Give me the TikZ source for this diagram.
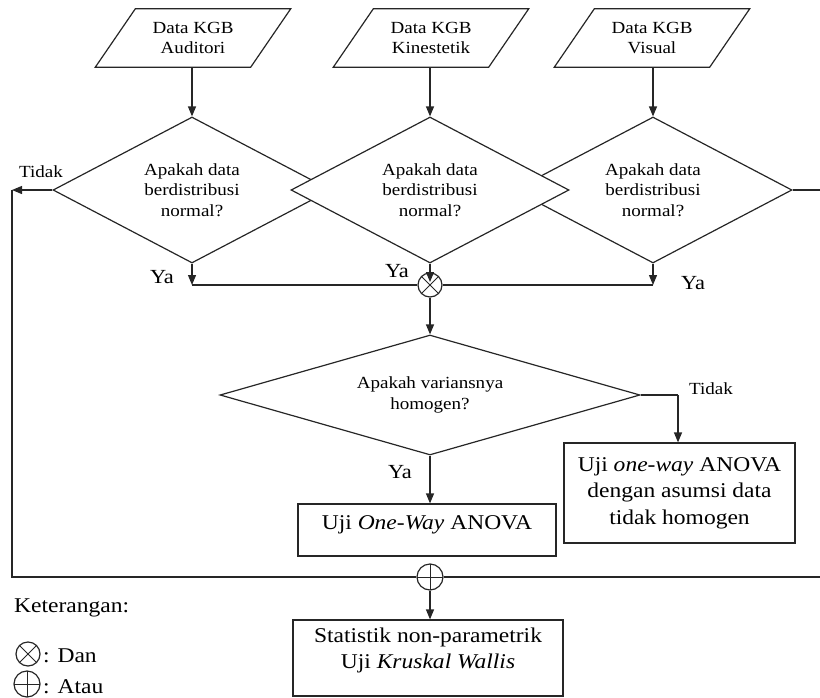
\documentclass[tikz,border=0pt]{standalone}
\usepackage{fontspec}
\setmainfont{Liberation Serif}[FakeStretch=1.12]
\usetikzlibrary{shapes.geometric,arrows.meta,calc}
\begin{document}
\begin{tikzpicture}[x=1pt,y=-1pt,
  wire/.style={draw=black!85, line width=1.2pt},
  conn/.style={wire, -{Triangle[length=10pt,width=8pt]}},
  small/.style={font=\fontsize{17}{20.5}\selectfont, align=center, inner sep=0pt},
  big/.style={font=\fontsize{21}{26.5}\selectfont, align=center, inner sep=0pt},
  yalab/.style={font=\fontsize{20}{24}\selectfont, inner sep=0pt},
  para/.style={small, minimum width=155pt, minimum height=58pt},
  dec/.style={diamond, wire, shape aspect=1.9, minimum width=278pt, minimum height=146pt, inner sep=0pt, small},
  boxst/.style={rectangle, wire, inner sep=0pt},
  gate/.style={circle, wire, minimum size=24pt, inner sep=0pt,
    path picture={\draw[black!85, line width=1pt] (path picture bounding box.north west) -- (path picture bounding box.south east)
      (path picture bounding box.north east) -- (path picture bounding box.south west);}},
  orgate/.style={circle, wire, minimum size=26pt, inner sep=0pt,
    path picture={\draw[black!85, line width=1pt] (path picture bounding box.north) -- (path picture bounding box.south)
      (path picture bounding box.east) -- (path picture bounding box.west);}},
]
\useasboundingbox (0,0) rectangle (820,697);

% input parallelograms
\node[para] (p1) at (193,38) {Data KGB\\Auditori};
\node[para] (p2) at (431,38) {Data KGB\\Kinestetik};
\node[para] (p3) at (652,38) {Data KGB\\Visual};
\foreach \p in {p1,p2,p3}{
  \draw[wire] ($(\p.north west)+(20,0)$) -- ($(\p.north east)+(20,0)$)
    -- ($(\p.south east)+(-20,0)$) -- ($(\p.south west)+(-20,0)$) -- cycle;
}

% normality decisions (middle one drawn on top)
\node[dec] (d1) at (192,190) {Apakah data\\berdistribusi\\normal?};
\node[dec] (d3) at (653,190) {Apakah data\\berdistribusi\\normal?};
\node[dec, fill=white] (d2) at (430,190) {Apakah data\\berdistribusi\\normal?};

\draw[conn] (p1.south -| d1.north) -- (d1.north);
\draw[conn] (p2.south -| d2.north) -- (d2.north);
\draw[conn] (p3.south -| d3.north) -- (d3.north);

% AND gate
\node[gate] (and) at (430,285) {};

\node[small] (tidak1) at (41,172) {Tidak};
\node[yalab] (ya1) at (162,277) {Ya};
\node[yalab] (ya2) at (397,271) {Ya};
\node[yalab] (ya3) at (693,283) {Ya};

\draw[conn] (d1.south) -- (d1.south |- and.center);
\draw[wire] (d1.south |- and.center) -- (and.west);
\draw[conn] (d3.south) -- (d3.south |- and.center);
\draw[wire] (d3.south |- and.center) -- (and.east);
\draw[conn] (d2.south) -- ($(and.center)+(0,-3)$);

% homogeneity decision
\node[dec, shape aspect=3.5, minimum width=420pt, minimum height=120pt] (d4) at (430,395) {Apakah variansnya\\homogen?};
\draw[conn] (and.south) -- (d4.north);

\node[boxst, big, minimum width=231pt, minimum height=100pt] (b2) at (679.5,493)
  {Uji \textit{one-way} ANOVA\\dengan asumsi data\\tidak homogen};
\node[small] (tidak2) at (711,389) {Tidak};
\coordinate (k) at (678,395);
\draw[wire] (d4.east) -- (k);
\draw[conn] (k) -- (k |- b2.north);

\node[boxst, minimum width=258pt, minimum height=52pt] (b1) at (427,530) {};
\node[big] (t1) at (427,525) {Uji \textit{One-Way} ANOVA};
\node[yalab] (ya4) at (400,472) {Ya};
\draw[conn] (d4.south) -- (d4.south |- b1.north);

% OR gate and return lines
\node[orgate] (or) at (430,577) {};
\coordinate (tl) at (12,190);
\coordinate (bl) at (12,577);
\coordinate (tr) at (820,190);
\coordinate (br) at (820,577);
\draw[conn] (d1.west) -- (tl);
\draw[wire] (tl) -- (bl) -- (or.west);
\draw[wire] (d3.east) -- (tr);
\draw[wire] (or.east) -- (br);

% non-parametric box
\node[boxst, minimum width=270pt, minimum height=76pt] (b3) at (428,658) {};
\node[big, anchor=north] (t3) at ($(b3.north)+(0,8)$) {Statistik non-parametrik\\Uji \textit{Kruskal Wallis}};
\draw[conn] (or.south) -- (or.south |- b3.north);

% legend
\node[big, anchor=west] (ket) at (14,608) {Keterangan:};
\node[gate] (lg1) at (28,654) {};
\node[big, anchor=west] (lt1) at (43,656) {: Dan};
\node[orgate] (lg2) at (27,684) {};
\node[big, anchor=west] (lt2) at (43,687) {: Atau};
\end{tikzpicture}
\end{document}
